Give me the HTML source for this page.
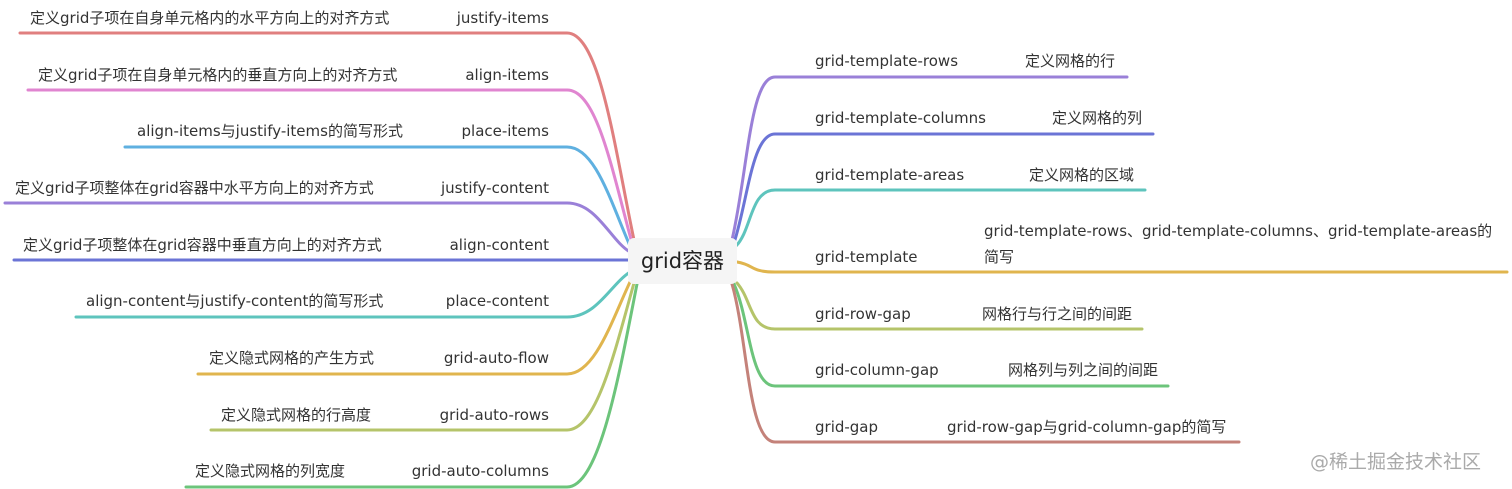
<!DOCTYPE html>
<html><head><meta charset="utf-8"><style>
body{margin:0;width:1512px;height:489px;background:#fff;overflow:hidden;position:relative;font-family:"DejaVu Sans","Noto Sans CJK SC",sans-serif;color:#333}
.t{position:absolute;font-size:15px;white-space:nowrap;line-height:18px}
.r{text-align:right}
</style></head><body>
<svg width="1512" height="489" style="position:absolute;left:0;top:0" fill="none" stroke-width="3" stroke-linecap="round">
<path d="M20,33 L567,33 C600,33 615,150 634,240" stroke="#e07f7f"/>
<path d="M28,90 L567,90 C597,90 612,170 632,243" stroke="#e085d0"/>
<path d="M125,147 L567,147 C595,147 610,200 630,246" stroke="#5fb0e0"/>
<path d="M5,203 L567,203 C597,203 610,240 630,252" stroke="#9a80d8"/>
<path d="M14,260 L630,260" stroke="#6b74d6"/>
<path d="M76,317 L567,317 C597,317 610,285 630,272" stroke="#5ec4bd"/>
<path d="M198,374 L567,374 C595,374 612,320 630,282" stroke="#e0b54e"/>
<path d="M211,430 L567,430 C597,430 615,350 634,283" stroke="#b5c46a"/>
<path d="M186,487 L567,487 C600,487 620,370 637,284" stroke="#6cc47b"/>
<path d="M1127,77 L775,77 C750,77 748,170 732,240" stroke="#9a80d8"/>
<path d="M1153,134 L775,134 C752,134 748,200 734,243" stroke="#6b74d6"/>
<path d="M1145,190 L775,190 C750,190 752,230 736,246" stroke="#5ec4bd"/>
<path d="M1507,272 L775,272 C750,272 755,265 737,262" stroke="#e0b54e"/>
<path d="M1142,329 L775,329 C750,329 752,300 737,283" stroke="#b5c46a"/>
<path d="M1168,386 L775,386 C750,386 750,320 734,284" stroke="#6cc47b"/>
<path d="M1239,442 L775,442 C748,442 748,340 732,284" stroke="#c4827a"/>
</svg>
<div style="position:absolute;left:628px;top:238px;width:109px;height:46px;background:#f5f5f5;border-radius:6px;font-size:21px;line-height:46px;text-align:center;color:#222">grid容器</div>
<div class="t" style="left:30px;top:9px">定义grid子项在自身单元格内的水平方向上的对齐方式</div>
<div class="t r" style="right:963px;top:9px">justify-items</div>
<div class="t" style="left:38px;top:66px">定义grid子项在自身单元格内的垂直方向上的对齐方式</div>
<div class="t r" style="right:963px;top:66px">align-items</div>
<div class="t" style="left:137px;top:122px">align-items与justify-items的简写形式</div>
<div class="t r" style="right:963px;top:122px">place-items</div>
<div class="t" style="left:15px;top:179px">定义grid子项整体在grid容器中水平方向上的对齐方式</div>
<div class="t r" style="right:963px;top:179px">justify-content</div>
<div class="t" style="left:23px;top:236px">定义grid子项整体在grid容器中垂直方向上的对齐方式</div>
<div class="t r" style="right:963px;top:236px">align-content</div>
<div class="t" style="left:86px;top:292px">align-content与justify-content的简写形式</div>
<div class="t r" style="right:963px;top:292px">place-content</div>
<div class="t" style="left:209px;top:349px">定义隐式网格的产生方式</div>
<div class="t r" style="right:963px;top:349px">grid-auto-flow</div>
<div class="t" style="left:221px;top:406px">定义隐式网格的行高度</div>
<div class="t r" style="right:963px;top:406px">grid-auto-rows</div>
<div class="t" style="left:195px;top:462px">定义隐式网格的列宽度</div>
<div class="t r" style="right:963px;top:462px">grid-auto-columns</div>
<div class="t" style="left:815px;top:52px">grid-template-rows</div>
<div class="t" style="left:1025px;top:52px">定义网格的行</div>
<div class="t" style="left:815px;top:109px">grid-template-columns</div>
<div class="t" style="left:1052px;top:109px">定义网格的列</div>
<div class="t" style="left:815px;top:166px">grid-template-areas</div>
<div class="t" style="left:1029px;top:166px">定义网格的区域</div>
<div class="t" style="left:815px;top:248px">grid-template</div>
<div class="t" style="left:984px;top:222px">grid-template-rows、grid-template-columns、grid-template-areas的</div>
<div class="t" style="left:984px;top:248px">简写</div>
<div class="t" style="left:815px;top:305px">grid-row-gap</div>
<div class="t" style="left:982px;top:305px">网格行与行之间的间距</div>
<div class="t" style="left:815px;top:361px">grid-column-gap</div>
<div class="t" style="left:1008px;top:361px">网格列与列之间的间距</div>
<div class="t" style="left:815px;top:418px">grid-gap</div>
<div class="t" style="left:947px;top:418px">grid-row-gap与grid-column-gap的简写</div>
<div class="t" style="left:1310px;top:452px;font-size:19px;line-height:21px;color:#aaa">@稀土掘金技术社区</div>
</body></html>
